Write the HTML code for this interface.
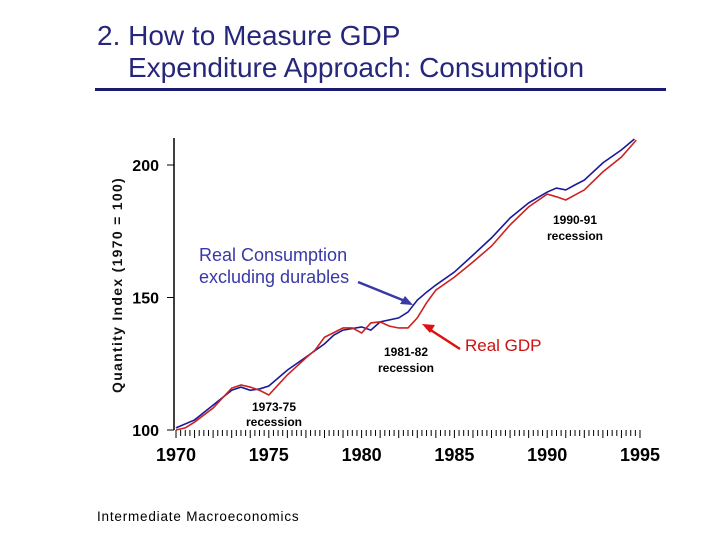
<!DOCTYPE html>
<html><head><meta charset="utf-8"><style>
body{margin:0;background:#fff;}
svg{display:block;font-family:"Liberation Sans",Arial,sans-serif;}
</style></head><body>
<svg id="c" width="720" height="540" viewBox="0 0 720 540">
<text x="97" y="45" font-size="28" fill="#26267a">2. How to Measure GDP</text>
<text x="128" y="77" font-size="28" fill="#26267a">Expenditure Approach: Consumption</text>
<rect x="95" y="88" width="571" height="3" fill="#1a1a70"/>
<g id="axes"></g>
<g id="series"></g>
<text transform="translate(122,285) rotate(-90)" text-anchor="middle" font-size="14" letter-spacing="1.3" font-weight="bold" fill="#111">Quantity Index (1970 = 100)</text>
<text x="199" y="261" font-size="18" fill="#3838a8">Real Consumption</text>
<text x="199" y="283" font-size="18" fill="#3838a8">excluding durables</text>
<line x1="358" y1="282" x2="410" y2="303" stroke="#3838a8" stroke-width="2.5"/>
<polygon points="413,305 400,304 405,296" fill="#3838a8"/>
<text x="465" y="351" font-size="17" fill="#cc1111">Real GDP</text>
<line x1="460" y1="349" x2="426" y2="327" stroke="#dd1111" stroke-width="2.5"/>
<polygon points="422,324 435,325 430,333" fill="#dd1111"/>
<text x="575" y="224" font-size="12" font-weight="bold" text-anchor="middle">1990-91</text>
<text x="575" y="240" font-size="12" font-weight="bold" text-anchor="middle">recession</text>
<text x="406" y="356" font-size="12" font-weight="bold" text-anchor="middle">1981-82</text>
<text x="406" y="372" font-size="12" font-weight="bold" text-anchor="middle">recession</text>
<text x="274" y="411" font-size="12" font-weight="bold" text-anchor="middle">1973-75</text>
<text x="274" y="426" font-size="12" font-weight="bold" text-anchor="middle">recession</text>
<text x="97" y="521" font-size="13.5" letter-spacing="0.8">Intermediate Macroeconomics</text>
</svg>
<script>
const yearsC=[1970,1971,1972,1973,1973.5,1974,1974.5,1975,1976,1977,1978,1978.5,1979,1980,1980.5,1981,1982,1982.5,1983,1983.5,1984,1985,1986,1987,1988,1989,1990,1990.5,1991,1991.5,1992,1993,1994,1994.7];
const consumption=[100.8,103.8,109.4,115,116.2,115,115.5,116.6,122.6,127.5,132.5,135.8,137.7,138.9,137.7,140.8,142.3,144.5,149,152,154.7,159.6,166,172.5,180,185.7,189.8,191.3,190.6,192.5,194.3,200.8,205.7,209.8];
const yearsG=[1970,1970.5,1971,1972,1973,1973.5,1974,1974.5,1975,1975.5,1976,1977,1977.5,1978,1979,1979.5,1980,1980.5,1981,1981.5,1982,1982.5,1983,1983.5,1984,1985,1986,1987,1988,1989,1990,1990.5,1991,1992,1993,1994,1994.8];
const gdp=[100,100.8,103,108.3,115.8,117,116.2,115,113.2,117,120.8,127.2,130.2,135,138.5,138.5,136.6,140.4,140.8,139.2,138.5,138.5,142.3,148,152.8,157.7,163.4,169.4,177.4,184.2,189,188,186.8,190.6,197.4,203,209.4];
const yTicks=[100,150,200];
const xTicks=[1970,1975,1980,1985,1990,1995];
const NS='http://www.w3.org/2000/svg';
const X=y=>176+(y-1970)*18.56;
const Y=v=>430-(v-100)*2.65;
const ax=document.getElementById('axes'),se=document.getElementById('series');
function mk(p,tag,attrs){const e=document.createElementNS(NS,tag);for(const k in attrs)e.setAttribute(k,attrs[k]);p.appendChild(e);return e;}
let l=mk(ax,'line',{x1:174,y1:138,x2:174,y2:430,stroke:'#000','stroke-width':1.5});


yTicks.forEach(v=>{
 const t=mk(ax,'line',{x1:167,y1:Y(v),x2:174,y2:Y(v),stroke:'#000'});
 
 
 const tx=mk(ax,'text',{x:159,y:Y(v)+6,'text-anchor':'end','font-size':16,'font-weight':'bold'});
 tx.textContent=v;
 
 
});
for(let q=0;q<=100;q++){
 const yr=1970+q/4;
 const t=mk(ax,'line',{x1:X(yr),y1:430,x2:X(yr),y2:q%4==0?438:436,stroke:'#000'});
 
 
}
xTicks.forEach(v=>{
 const tx=mk(ax,'text',{x:X(v),y:461,'text-anchor':'middle','font-size':18,'font-weight':'bold'});
 tx.textContent=v;
 
 
});
const pc=mk(se,'polyline',{points:yearsC.map((y,i)=>X(y)+','+Y(consumption[i])).join(' '),fill:'none',stroke:'#1a1a99','stroke-width':1.6});


const pg=mk(se,'polyline',{points:yearsG.map((y,i)=>X(y)+','+Y(gdp[i])).join(' '),fill:'none',stroke:'#cc2222','stroke-width':1.6});


</script>
</body></html>
